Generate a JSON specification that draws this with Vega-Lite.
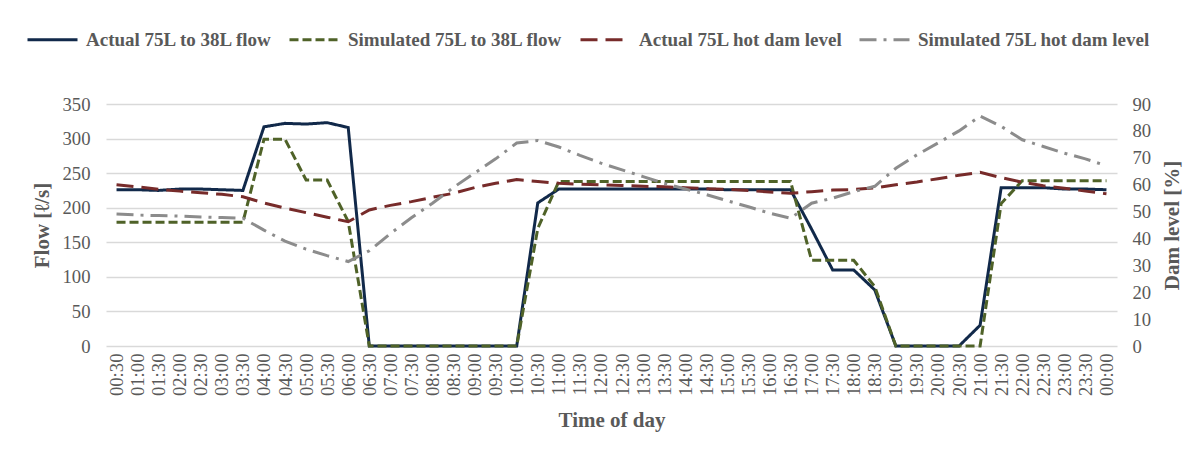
{
  "$schema": "https://vega.github.io/schema/vega-lite/v6.json",
  "width": 1011,
  "height": 242,
  "autosize": {"type": "none"},
  "padding": {"left": 106, "top": 104, "right": 86, "bottom": 109},
  "background": "white",
  "config": {
    "font": "Liberation Serif",
    "view": {"stroke": null},
    "axis": {
      "labelFont": "Liberation Serif",
      "labelFontSize": 18.7,
      "labelColor": "#595959",
      "titleFont": "Liberation Serif",
      "titleFontSize": 21,
      "titleFontWeight": "bold",
      "titleColor": "#595959",
      "domain": false,
      "ticks": false,
      "gridColor": "#D9D9D9",
      "gridWidth": 1.3
    },
    "legend": {
      "labelFont": "Liberation Serif",
      "labelFontSize": 19,
      "labelFontWeight": "bold",
      "labelColor": "#595959",
      "labelLimit": 400
    }
  },
  "data": {
    "values": [
      {"time": "00:30", "Actual 75L to 38L flow": 226, "Simulated 75L to 38L flow": 179, "Actual 75L hot dam level": 60.0, "Simulated 75L hot dam level": 49.1},
      {"time": "01:00", "Actual 75L to 38L flow": 226, "Simulated 75L to 38L flow": 179, "Actual 75L hot dam level": 59.2, "Simulated 75L hot dam level": 48.7},
      {"time": "01:30", "Actual 75L to 38L flow": 225, "Simulated 75L to 38L flow": 179, "Actual 75L hot dam level": 58.3, "Simulated 75L hot dam level": 48.5},
      {"time": "02:00", "Actual 75L to 38L flow": 227, "Simulated 75L to 38L flow": 179, "Actual 75L hot dam level": 57.6, "Simulated 75L hot dam level": 48.3},
      {"time": "02:30", "Actual 75L to 38L flow": 227, "Simulated 75L to 38L flow": 179, "Actual 75L hot dam level": 57.0, "Simulated 75L hot dam level": 48.0},
      {"time": "03:00", "Actual 75L to 38L flow": 226, "Simulated 75L to 38L flow": 179, "Actual 75L hot dam level": 56.4, "Simulated 75L hot dam level": 47.8},
      {"time": "03:30", "Actual 75L to 38L flow": 225, "Simulated 75L to 38L flow": 179, "Actual 75L hot dam level": 55.5, "Simulated 75L hot dam level": 47.5},
      {"time": "04:00", "Actual 75L to 38L flow": 317, "Simulated 75L to 38L flow": 299, "Actual 75L hot dam level": 53.2, "Simulated 75L hot dam level": 43.1},
      {"time": "04:30", "Actual 75L to 38L flow": 322, "Simulated 75L to 38L flow": 299, "Actual 75L hot dam level": 51.3, "Simulated 75L hot dam level": 39.0},
      {"time": "05:00", "Actual 75L to 38L flow": 321, "Simulated 75L to 38L flow": 240, "Actual 75L hot dam level": 49.6, "Simulated 75L hot dam level": 36.0},
      {"time": "05:30", "Actual 75L to 38L flow": 323, "Simulated 75L to 38L flow": 240, "Actual 75L hot dam level": 47.9, "Simulated 75L hot dam level": 33.6},
      {"time": "06:00", "Actual 75L to 38L flow": 316, "Simulated 75L to 38L flow": 180, "Actual 75L hot dam level": 46.2, "Simulated 75L hot dam level": 31.4},
      {"time": "06:30", "Actual 75L to 38L flow": 0, "Simulated 75L to 38L flow": 0, "Actual 75L hot dam level": 50.6, "Simulated 75L hot dam level": 35.4},
      {"time": "07:00", "Actual 75L to 38L flow": 0, "Simulated 75L to 38L flow": 0, "Actual 75L hot dam level": 52.3, "Simulated 75L hot dam level": 41.8},
      {"time": "07:30", "Actual 75L to 38L flow": 0, "Simulated 75L to 38L flow": 0, "Actual 75L hot dam level": 53.7, "Simulated 75L hot dam level": 47.7},
      {"time": "08:00", "Actual 75L to 38L flow": 0, "Simulated 75L to 38L flow": 0, "Actual 75L hot dam level": 55.3, "Simulated 75L hot dam level": 53.1},
      {"time": "08:30", "Actual 75L to 38L flow": 0, "Simulated 75L to 38L flow": 0, "Actual 75L hot dam level": 56.8, "Simulated 75L hot dam level": 59.0},
      {"time": "09:00", "Actual 75L to 38L flow": 0, "Simulated 75L to 38L flow": 0, "Actual 75L hot dam level": 58.9, "Simulated 75L hot dam level": 64.3},
      {"time": "09:30", "Actual 75L to 38L flow": 0, "Simulated 75L to 38L flow": 0, "Actual 75L hot dam level": 60.5, "Simulated 75L hot dam level": 69.6},
      {"time": "10:00", "Actual 75L to 38L flow": 0, "Simulated 75L to 38L flow": 0, "Actual 75L hot dam level": 61.9, "Simulated 75L hot dam level": 75.5},
      {"time": "10:30", "Actual 75L to 38L flow": 207, "Simulated 75L to 38L flow": 170, "Actual 75L hot dam level": 61.2, "Simulated 75L hot dam level": 76.4},
      {"time": "11:00", "Actual 75L to 38L flow": 227, "Simulated 75L to 38L flow": 238, "Actual 75L hot dam level": 60.5, "Simulated 75L hot dam level": 74.0},
      {"time": "11:30", "Actual 75L to 38L flow": 227, "Simulated 75L to 38L flow": 238, "Actual 75L hot dam level": 60.2, "Simulated 75L hot dam level": 70.9},
      {"time": "12:00", "Actual 75L to 38L flow": 227, "Simulated 75L to 38L flow": 238, "Actual 75L hot dam level": 59.9, "Simulated 75L hot dam level": 68.0},
      {"time": "12:30", "Actual 75L to 38L flow": 227, "Simulated 75L to 38L flow": 238, "Actual 75L hot dam level": 59.7, "Simulated 75L hot dam level": 65.5},
      {"time": "13:00", "Actual 75L to 38L flow": 227, "Simulated 75L to 38L flow": 238, "Actual 75L hot dam level": 59.4, "Simulated 75L hot dam level": 63.0},
      {"time": "13:30", "Actual 75L to 38L flow": 227, "Simulated 75L to 38L flow": 238, "Actual 75L hot dam level": 59.2, "Simulated 75L hot dam level": 60.5},
      {"time": "14:00", "Actual 75L to 38L flow": 227, "Simulated 75L to 38L flow": 238, "Actual 75L hot dam level": 58.9, "Simulated 75L hot dam level": 58.4},
      {"time": "14:30", "Actual 75L to 38L flow": 227, "Simulated 75L to 38L flow": 238, "Actual 75L hot dam level": 58.5, "Simulated 75L hot dam level": 56.3},
      {"time": "15:00", "Actual 75L to 38L flow": 226, "Simulated 75L to 38L flow": 238, "Actual 75L hot dam level": 58.3, "Simulated 75L hot dam level": 54.0},
      {"time": "15:30", "Actual 75L to 38L flow": 226, "Simulated 75L to 38L flow": 238, "Actual 75L hot dam level": 57.8, "Simulated 75L hot dam level": 51.8},
      {"time": "16:00", "Actual 75L to 38L flow": 226, "Simulated 75L to 38L flow": 238, "Actual 75L hot dam level": 57.3, "Simulated 75L hot dam level": 49.4},
      {"time": "16:30", "Actual 75L to 38L flow": 226, "Simulated 75L to 38L flow": 238, "Actual 75L hot dam level": 56.8, "Simulated 75L hot dam level": 47.5},
      {"time": "17:00", "Actual 75L to 38L flow": 169, "Simulated 75L to 38L flow": 124, "Actual 75L hot dam level": 57.4, "Simulated 75L hot dam level": 53.1},
      {"time": "17:30", "Actual 75L to 38L flow": 110, "Simulated 75L to 38L flow": 124, "Actual 75L hot dam level": 58.0, "Simulated 75L hot dam level": 55.0},
      {"time": "18:00", "Actual 75L to 38L flow": 110, "Simulated 75L to 38L flow": 124, "Actual 75L hot dam level": 58.2, "Simulated 75L hot dam level": 57.4},
      {"time": "18:30", "Actual 75L to 38L flow": 81, "Simulated 75L to 38L flow": 86, "Actual 75L hot dam level": 58.8, "Simulated 75L hot dam level": 59.4},
      {"time": "19:00", "Actual 75L to 38L flow": 0, "Simulated 75L to 38L flow": 0, "Actual 75L hot dam level": 60.0, "Simulated 75L hot dam level": 66.1},
      {"time": "19:30", "Actual 75L to 38L flow": 0, "Simulated 75L to 38L flow": 0, "Actual 75L hot dam level": 61.0, "Simulated 75L hot dam level": 71.1},
      {"time": "20:00", "Actual 75L to 38L flow": 0, "Simulated 75L to 38L flow": 0, "Actual 75L hot dam level": 62.2, "Simulated 75L hot dam level": 75.5},
      {"time": "20:30", "Actual 75L to 38L flow": 0, "Simulated 75L to 38L flow": 0, "Actual 75L hot dam level": 63.5, "Simulated 75L hot dam level": 80.0},
      {"time": "21:00", "Actual 75L to 38L flow": 30, "Simulated 75L to 38L flow": 0, "Actual 75L hot dam level": 64.6, "Simulated 75L hot dam level": 85.5},
      {"time": "21:30", "Actual 75L to 38L flow": 229, "Simulated 75L to 38L flow": 206, "Actual 75L hot dam level": 62.6, "Simulated 75L hot dam level": 81.7},
      {"time": "22:00", "Actual 75L to 38L flow": 229, "Simulated 75L to 38L flow": 239, "Actual 75L hot dam level": 60.9, "Simulated 75L hot dam level": 76.7},
      {"time": "22:30", "Actual 75L to 38L flow": 229, "Simulated 75L to 38L flow": 239, "Actual 75L hot dam level": 59.6, "Simulated 75L hot dam level": 74.2},
      {"time": "23:00", "Actual 75L to 38L flow": 227, "Simulated 75L to 38L flow": 239, "Actual 75L hot dam level": 58.7, "Simulated 75L hot dam level": 71.7},
      {"time": "23:30", "Actual 75L to 38L flow": 227, "Simulated 75L to 38L flow": 239, "Actual 75L hot dam level": 57.6, "Simulated 75L hot dam level": 69.6},
      {"time": "00:00", "Actual 75L to 38L flow": 226, "Simulated 75L to 38L flow": 239, "Actual 75L hot dam level": 56.6, "Simulated 75L hot dam level": 67.0}
    ]
  },
  "encoding": {
    "x": {
      "field": "time",
      "type": "ordinal",
      "sort": null,
      "title": "Time of day",
      "scale": {"paddingOuter": 0.5},
      "axis": {"labelAngle": -90, "labelPadding": 7, "titlePadding": 14, "grid": false}
    }
  },
  "layer": [
    {
      "transform": [{"fold": ["Actual 75L to 38L flow", "Simulated 75L to 38L flow"], "as": ["series", "flow"]}],
      "mark": {"type": "line", "strokeWidth": 3},
      "encoding": {
        "y": {
          "field": "flow",
          "type": "quantitative",
          "scale": {"domain": [0, 350], "nice": false},
          "axis": {"orient": "left", "title": "Flow [ℓ/s]", "values": [0, 50, 100, 150, 200, 250, 300, 350], "grid": true, "labelPadding": 16, "titlePadding": 9}
        },
        "color": {
          "field": "series",
          "type": "nominal",
          "scale": {
            "domain": ["Actual 75L to 38L flow", "Simulated 75L to 38L flow", "Actual 75L hot dam level", "Simulated 75L hot dam level"],
            "range": ["#11294A", "#4F6228", "#772B2A", "#8C8C8C"]
          },
          "legend": {"title": null, "orient": "none", "legendX": -80, "legendY": -91, "direction": "horizontal", "columns": 4, "columnPadding": 10, "symbolType": "stroke", "symbolSize": 2500, "symbolStrokeWidth": 3, "labelOffset": 7}
        },
        "strokeDash": {
          "field": "series",
          "type": "nominal",
          "scale": {
            "domain": ["Actual 75L to 38L flow", "Simulated 75L to 38L flow", "Actual 75L hot dam level", "Simulated 75L hot dam level"],
            "range": [[1, 0], [9, 4], [17, 8], [17, 7, 3, 7]]
          },
          "legend": {"title": null, "orient": "none", "legendX": -80, "legendY": -91, "direction": "horizontal", "columns": 4, "columnPadding": 10, "symbolType": "stroke", "symbolSize": 2500, "symbolStrokeWidth": 3, "labelOffset": 7}
        }
      }
    },
    {
      "transform": [{"fold": ["Actual 75L hot dam level", "Simulated 75L hot dam level"], "as": ["series", "level"]}],
      "mark": {"type": "line", "strokeWidth": 3},
      "encoding": {
        "y": {
          "field": "level",
          "type": "quantitative",
          "scale": {"domain": [0, 90], "nice": false},
          "axis": {"orient": "right", "title": "Dam level [%]", "titleAngle": 270, "titleBaseline": "top", "values": [0, 10, 20, 30, 40, 50, 60, 70, 80, 90], "grid": false, "labelPadding": 15, "titlePadding": 11}
        },
        "color": {"field": "series", "type": "nominal"},
        "strokeDash": {"field": "series", "type": "nominal"}
      }
    }
  ],
  "resolve": {"scale": {"y": "independent"}}
}
